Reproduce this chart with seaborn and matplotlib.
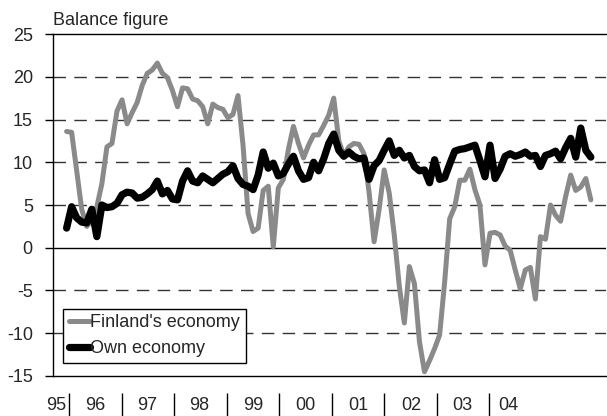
"""Consumer confidence balance figures: Finland's economy vs own economy."""

import pandas as pd
import matplotlib
matplotlib.use("Agg")
import matplotlib.pyplot as plt
import seaborn as sns

# monthly survey readings, Nov 1995 onwards
finland = [
    13.6, 13.5, 9.0, 4.5, 2.5, 3.2, 4.8, 7.5, 11.8, 12.2,
    16.0, 17.3, 14.5, 15.8, 17.0, 19.0, 20.4, 20.8, 21.6, 20.4,
    19.9, 18.4, 16.5, 18.7, 18.6, 17.4, 17.2, 16.5, 14.5, 16.8,
    16.4, 16.2, 15.2, 15.6, 17.8, 12.0, 4.0, 1.9, 2.3, 6.7,
    7.2, 0.1, 7.0, 8.0, 11.5, 14.2, 12.2, 10.5, 12.0, 13.2,
    13.2, 14.3, 15.5, 17.5, 12.5, 10.8, 11.8, 12.2, 12.1, 11.0,
    6.5, 0.7, 4.5, 9.1, 6.4, 1.5, -4.5, -8.8, -2.2, -4.2,
    -11.0, -14.5, -13.2, -11.8, -10.2, -4.0, 3.4, 4.8, 7.9, 7.9,
    9.2, 6.8, 5.0, -2.0, 1.7, 1.8, 1.5, 0.2, -0.3, -2.6,
    -4.8, -2.6, -2.3, -6.0, 1.3, 1.0, 5.0, 3.8, 3.1, 6.0,
    8.5, 6.7, 7.1, 8.1, 5.6,
]
own = [
    2.3, 4.8, 3.5, 3.0, 2.9, 4.5, 1.3, 5.0, 4.7, 4.8,
    5.2, 6.2, 6.5, 6.4, 5.8, 5.9, 6.3, 6.8, 7.8, 6.3,
    6.7, 5.7, 5.6, 7.8, 9.0, 7.8, 7.6, 8.4, 8.0, 7.6,
    8.1, 8.6, 8.9, 9.6, 8.1, 7.4, 7.2, 6.8, 8.5, 11.2,
    9.3, 9.9, 8.4, 8.7, 9.8, 10.7, 9.0, 8.0, 8.2, 10.0,
    9.0, 10.4, 12.2, 13.3, 11.4, 10.7, 11.2, 10.7, 10.4, 10.5,
    8.0, 9.6, 10.2, 11.4, 12.5, 10.8, 11.4, 10.5, 10.8, 9.5,
    9.0, 9.1, 7.6, 10.3, 8.0, 8.2, 9.8, 11.3, 11.5, 11.6,
    11.8, 12.0, 10.2, 8.3, 12.0, 8.1, 9.2, 10.7, 11.0, 10.7,
    10.9, 11.2, 10.7, 10.8, 9.5, 10.8, 11.0, 11.3, 10.4, 11.7,
    12.8, 10.6, 14.0, 11.4, 10.6,
]
year_labels = ["95", "96", "97", "98", "99", "00", "01", "02", "03", "04"]
series_names = ["Finland's economy", "Own economy"]

df = pd.DataFrame({
    "month": range(len(finland)),
    series_names[0]: finland,
    series_names[1]: own,
})
long_df = df.melt(id_vars="month", var_name="series", value_name="balance")

sns.set_style("white")
plt.rcParams["font.family"] = ["Liberation Sans", "DejaVu Sans"]
plt.rcParams["font.size"] = 13
plt.rcParams["axes.unicode_minus"] = False

fig = plt.figure(figsize=(6.07, 4.16), dpi=100)
ax = fig.add_axes([0.0873, 0.0962, 0.911, 0.822])

# gridlines first so the series sit on top
for v in [-10, -5, 5, 10, 15, 20]:
    ax.axhline(v, color="#333333", lw=1, ls=(0, (9, 6)), zorder=1)
ax.axhline(0, color="black", lw=1, zorder=1)

sns.lineplot(
    data=long_df, x="month", y="balance", hue="series", size="series",
    hue_order=series_names, size_order=series_names,
    palette={series_names[0]: "#8a8a8a", series_names[1]: "black"},
    sizes={series_names[0]: 3.6, series_names[1]: 5.2},
    ax=ax, zorder=3,
)

ax.set_xlim(-2.7, 107.0)
ax.set_ylim(-15, 25)
ax.set_yticks(range(-15, 30, 5))
ax.set_xlabel("")
ax.set_ylabel("")

# year labels below the axis, with separators between them
label_pos = [-2.1, 5.6, 15.9, 26.4, 37.0, 47.3, 57.8, 68.4, 78.6, 87.6]
ax.set_xticks(label_pos)
ax.set_xticklabels(year_labels)
ax.tick_params(axis="x", length=0, pad=15, labelsize=13)
ax.tick_params(axis="y", direction="out", length=6, width=1, pad=8.5,
               left=True, labelsize=13, color="black")
sep_pos = [0.46, 11.0, 21.3, 31.8, 42.1, 52.6, 63.0, 73.5, 83.8]
ax.vlines(sep_pos, -0.05, -0.12, color="black", lw=1,
          transform=ax.get_xaxis_transform(), clip_on=False)

for side in ["left", "top", "bottom"]:
    ax.spines[side].set_color("black")
    ax.spines[side].set_linewidth(1)
ax.spines["right"].set_visible(False)

ax.text(0, 1.026, "Balance figure", transform=ax.transAxes,
        ha="left", va="baseline", fontsize=13)

leg = ax.legend(
    loc="lower left", bbox_to_anchor=(0.0186, 0.039), frameon=True,
    fancybox=False, edgecolor="black", framealpha=1, fontsize=13,
    handlelength=1.2, handletextpad=0.0, borderpad=0.3, labelspacing=0.5,
    borderaxespad=0,
)
leg.get_frame().set_linewidth(1)

fig.savefig("out.png", dpi=100)
